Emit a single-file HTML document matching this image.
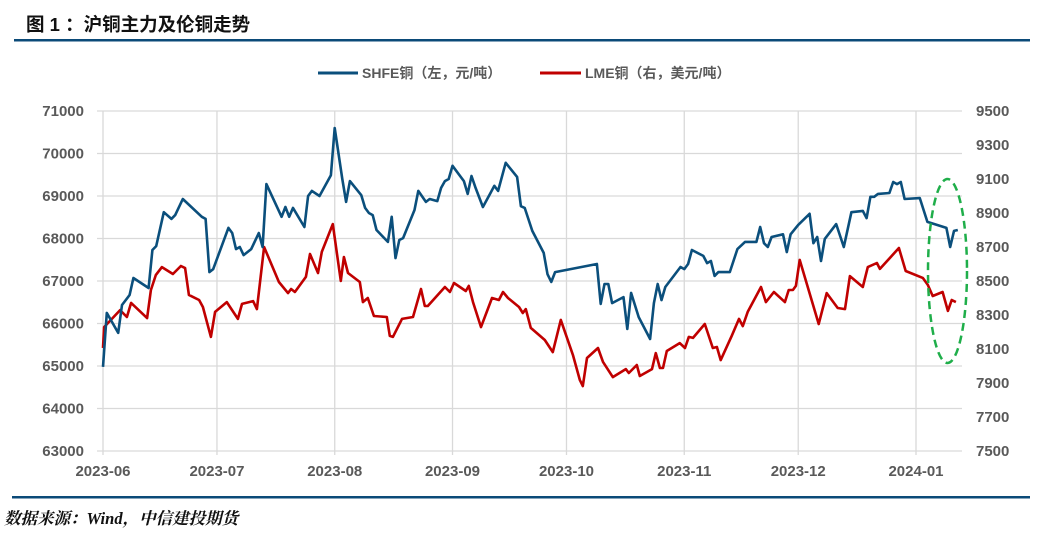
<!DOCTYPE html>
<html><head><meta charset="utf-8"><style>
body{margin:0;width:1040px;height:535px;background:#fff;overflow:hidden;font-family:"Liberation Sans","Noto Sans CJK SC",sans-serif;}
svg{display:block}
.ax{font-family:"Liberation Sans","Noto Sans CJK SC",sans-serif;font-size:15px;font-weight:bold;fill:#595959}
.lg{font-family:"Liberation Sans","Noto Sans CJK SC",sans-serif;font-size:14px;font-weight:bold;fill:#595959}
</style></head><body>
<svg id="chart" width="1040" height="535" xmlns="http://www.w3.org/2000/svg">
<text x="26" y="31" font-family="Liberation Sans,Noto Sans CJK SC,sans-serif" font-size="18.5" font-weight="bold" fill="#111">图 1 ：沪铜主力及伦铜走势</text>
<rect x="14" y="39" width="1016" height="2.5" fill="#0b4a78"/>
<g>
<line x1="318" y1="73" x2="358" y2="73" stroke="#0b4f7c" stroke-width="3"/>
<text class="lg" x="362" y="78">SHFE铜（左，元/吨）</text>
<line x1="540" y1="73" x2="581" y2="73" stroke="#c00000" stroke-width="3"/>
<text class="lg" x="585" y="78">LME铜（右，美元/吨）</text>
</g>
<g id="grid"></g><g id="axes"></g><g id="series"></g>
<ellipse cx="947.5" cy="271" rx="19.5" ry="92" fill="none" stroke="#1fae4a" stroke-width="2.5" stroke-dasharray="8,5"/>
<rect x="12" y="496" width="1018" height="2.5" fill="#0b4a78"/>
<text x="4" y="524" font-family="Liberation Serif,Noto Serif CJK SC,serif" font-size="16.5" font-weight="bold" font-style="italic" fill="#111">数据来源：Wind，中信建投期货</text>
</svg>
<script>
const xTickLabels=["2023-06","2023-07","2023-08","2023-09","2023-10","2023-11","2023-12","2024-01"];
const xTickDays=[0,30,61,92,122,153,183,214];
const leftTicks=[63000,64000,65000,66000,67000,68000,69000,70000,71000];
const rightTicks=[7500,7700,7900,8100,8300,8500,8700,8900,9100,9300,9500];
const shfeDays=[0,1,4,5,7,8,12,13,14,16,18,19,21,26,27,28,29,33,34,35,36,37,39,41,42,43,47,48,49,50,53,54,55,57,60,61,63,64,65,68,69,70,71,72,75,76,77,78,79,82,83,85,86,88,89,90,91,92,95,96,97,98,100,102,103,104,106,109,110,111,113,116,117,118,119,130,131,132,133,134,137,138,139,141,144,145,146,147,148,152,153,154,155,158,159,160,161,162,165,167,169,172,173,174,175,176,179,180,181,183,186,187,188,189,190,193,195,197,200,201,202,203,204,207,208,209,210,211,215,217,222,223,224,225];
const shfeValues=[64980,66250,65780,66435,66670,67070,66835,67730,67820,68620,68460,68550,68930,68510,68460,67210,67280,68250,68130,67750,67800,67610,67750,68130,67800,69280,68510,68740,68510,68720,68270,69000,69120,69000,69490,70600,69400,68860,69350,69020,68720,68600,68550,68200,67920,68510,67540,67965,68010,68670,69120,68860,68930,68880,69190,69350,69400,69710,69350,69050,69470,69210,68740,69070,69240,69120,69780,69450,68760,68720,68180,67660,67160,66980,67210,67400,66460,66930,66930,66480,66620,65870,66720,66150,65635,66480,66930,66550,66860,67330,67280,67400,67730,67590,67420,67470,67120,67210,67210,67750,67920,67920,68270,67890,67800,68035,68100,67680,68100,68320,68580,67890,68035,67470,67990,68340,67800,68620,68650,68480,68980,68980,69050,69070,69330,69280,69330,68930,68950,68390,68250,67800,68180,68200];
const lmeDays=[0,0.3,4.5,6.3,7.4,11.6,12.6,13.9,15.5,18.4,20.5,21.6,22.6,25.3,26.3,28.4,29.5,32.6,35.5,36.6,39.5,40.5,42.4,46.3,48.7,49.5,50.5,53.4,54.5,56.6,57.6,60.5,62.6,63.4,64.5,67.6,68.4,69.7,71.3,74.7,75.5,76.3,78.7,81.6,83.7,84.7,85.5,90,91.3,92.4,95.5,96.3,97.4,99.5,102.4,104.2,105.3,106.6,109.5,110.5,111.3,112.6,116.3,118.4,120.5,123.7,125.5,126.3,127.4,130.3,131.6,134.2,137.6,138.4,140.5,141.3,144.5,145.5,146.6,147.4,148.4,151.8,153.2,154.2,155.3,158.4,160.5,161.6,162.6,165.5,167.4,168.4,169.7,173.2,174.5,176.6,179.5,180.5,181.6,182.4,183.4,188.4,190.5,193.4,195.3,196.6,200,201.3,203.7,204.5,209.5,211.3,215.8,217.1,218.4,221,222.4,223.4,224.5];
const lmeValues=[8106,8229,8329,8288,8371,8282,8447,8535,8582,8541,8588,8576,8418,8388,8347,8171,8318,8376,8277,8365,8382,8335,8700,8494,8429,8453,8435,8524,8659,8547,8671,8835,8500,8641,8547,8494,8376,8400,8294,8288,8177,8171,8277,8288,8453,8353,8353,8465,8435,8488,8441,8471,8376,8229,8400,8388,8435,8400,8347,8312,8335,8224,8153,8082,8271,8065,7918,7882,8047,8106,8024,7935,7982,7959,8006,7941,7982,8076,7988,7988,8088,8135,8106,8171,8165,8247,8106,8112,8035,8177,8277,8235,8318,8465,8376,8435,8376,8447,8447,8471,8624,8247,8429,8341,8335,8529,8465,8582,8606,8571,8694,8559,8518,8477,8412,8435,8324,8388,8376];

const X0=103,X1=962,Y0=451,Y1=111;
const xScale=d=>X0+d*(916-X0)/214;
const yL=v=>Y0-(v-63000)/(71000-63000)*(Y0-Y1);
const yR=v=>Y0-(v-7500)/(9500-7500)*(Y0-Y1);
const NS="http://www.w3.org/2000/svg";
function mk(tag,attrs,parent){const e=document.createElementNS(NS,tag);for(const k in attrs)e.setAttribute(k,attrs[k]);parent.appendChild(e);return e;}
const grid=document.getElementById('grid'),axes=document.getElementById('axes'),series=document.getElementById('series');
leftTicks.forEach(v=>{
  const y=yL(v);
  const l=mk('line',{x1:97,x2:X1,y1:y,y2:y,stroke:'#d9d9d9','stroke-width':1.3},grid);
  
  
  const t=mk('text',{x:84,y:y+5,'text-anchor':'end',class:'ax'},axes);t.textContent=v;
  
  
});
rightTicks.forEach(v=>{
  const t=mk('text',{x:976,y:yR(v)+5,class:'ax'},axes);t.textContent=v;
  
  
});
xTickDays.forEach((d,i)=>{
  const x=xScale(d);
  const l=mk('line',{x1:x,x2:x,y1:Y1,y2:Y0+4,stroke:'#d9d9d9','stroke-width':1.3},grid);
  
  
  const t=mk('text',{x:x,y:476,'text-anchor':'middle',class:'ax'},axes);t.textContent=xTickLabels[i];
  
  
});
function path(days,vals,ys){return days.map((d,i)=>(i?'L':'M')+xScale(d).toFixed(1)+','+ys(vals[i]).toFixed(1)).join('');}
const pl=mk('path',{d:path(lmeDays,lmeValues,yR),fill:'none',stroke:'#c00000','stroke-width':2.6,'stroke-linejoin':'round'},series);


const ps=mk('path',{d:path(shfeDays,shfeValues,yL),fill:'none',stroke:'#0b4f7c','stroke-width':2.6,'stroke-linejoin':'round'},series);


</script>
</body></html>
